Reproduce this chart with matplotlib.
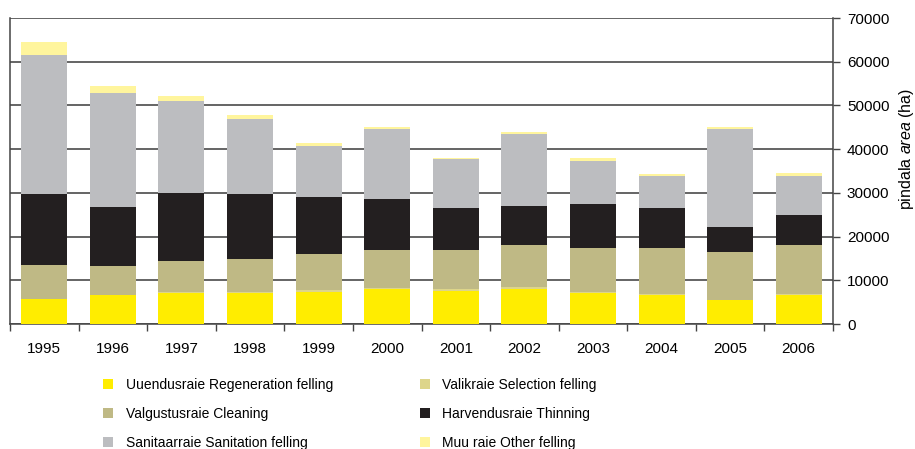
import matplotlib
matplotlib.use("Agg")
import matplotlib.pyplot as plt
import numpy as np
from matplotlib.patches import Patch

plt.rcParams['font.family'] = ['Liberation Sans', 'DejaVu Sans']
plt.rcParams['mathtext.fontset'] = 'custom'
plt.rcParams['mathtext.it'] = 'Liberation Sans:italic'
plt.rcParams['mathtext.rm'] = 'Liberation Sans'

years = ['1995', '1996', '1997', '1998', '1999', '2000', '2001', '2002', '2003', '2004', '2005', '2006']
regeneration = [5700, 6600, 7000, 7000, 7400, 7900, 7600, 8000, 7100, 6700, 5500, 6700]
selection = [0, 0, 300, 300, 400, 400, 450, 450, 250, 150, 0, 150]
cleaning = [7800, 6700, 7100, 7600, 8200, 8650, 8900, 9600, 10050, 10550, 11000, 11200]
thinning = [16300, 13500, 15600, 14900, 13100, 11700, 9600, 8950, 10100, 9150, 5700, 6900]
sanitation = [31800, 26100, 21100, 17200, 11700, 16000, 11200, 16500, 9850, 7350, 22450, 8950]
other = [3000, 1600, 1100, 900, 700, 450, 250, 450, 700, 450, 450, 650]

labels = ['Uuendusraie Regeneration felling', 'Valikraie Selection felling',
          'Valgustusraie Cleaning', 'Harvendusraie Thinning',
          'Sanitaarraie Sanitation felling', 'Muu raie Other felling']
colors = ['#FFED00', '#DDD58A', '#BFB985', '#231F20', '#BCBDC0', '#FFF59D']
series = [regeneration, selection, cleaning, thinning, sanitation, other]

fig = plt.figure(figsize=(9.15, 4.49), dpi=100)
ax = fig.add_axes([10/915, 1-324/449, (833-10)/915, (324-18)/449])

x = np.arange(len(years))
bottom = np.zeros(len(years))
for vals, c, lab in zip(series, colors, labels):
    ax.bar(x, vals, bottom=bottom, width=0.67, color=c, label=lab, zorder=3)
    bottom += np.array(vals)

ax.set_xlim(-0.5, len(years) - 0.5)
ax.set_ylim(0, 70000)
ax.set_yticks(np.arange(0, 70001, 10000))
ax.yaxis.tick_right()
ax.tick_params(axis='y', direction='out', length=5, width=1, color='#444444', labelsize=11, pad=5)
fig.text(906/915, 1-149/449, r'pindala $\mathit{area}$ (ha)', fontsize=11.5,
         rotation=90, ha='center', va='center')
ax.grid(axis='y', color='#3a3a3a', linewidth=1.1, zorder=1)

ax.set_xticks(x)
ax.set_xticklabels(years, fontsize=11)
ax.tick_params(axis='x', which='major', length=0, pad=13)
ax.set_xticks(np.arange(-0.5, len(years), 1.0), minor=True)
ax.tick_params(axis='x', which='minor', length=5, width=1, color='#444444', direction='out')

for s in ['left', 'bottom', 'right']:
    ax.spines[s].set_color('#444444')
    ax.spines[s].set_linewidth(1.1)
ax.spines['top'].set_visible(False)

handles = [Patch(facecolor=c, edgecolor='none') for c in colors]
order = [0, 2, 4, 1, 3, 5]
leg = fig.legend([handles[i] for i in order], [labels[i] for i in order],
                 ncol=2, loc='upper left', bbox_to_anchor=(103/915, 1-378/449),
                 frameon=False, fontsize=10, handlelength=0.72, handleheight=0.72,
                 handletextpad=0.9, columnspacing=6.25, labelspacing=1.08,
                 borderpad=0, borderaxespad=0)

fig.savefig('out.png', dpi=100)
